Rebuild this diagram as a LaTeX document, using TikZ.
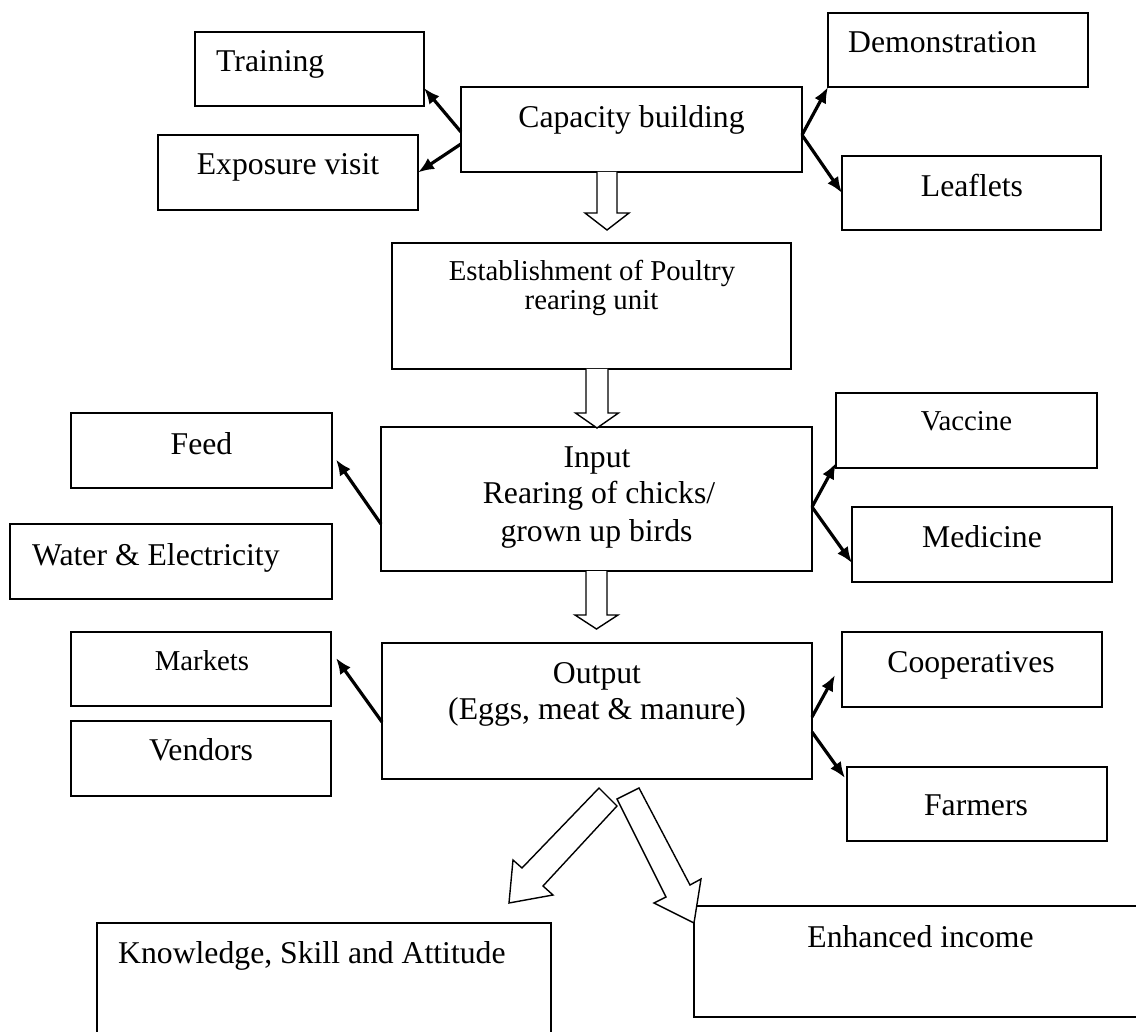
\documentclass[tikz,border=0pt]{standalone}
\usepackage{fontspec}
\setmainfont{Liberation Serif}
\usetikzlibrary{arrows.meta,calc}
\tikzset{
  box/.style={draw=black, line width=1.7pt, rectangle, inner sep=0pt, outer sep=0pt},
  lbl/.style={inner sep=0pt, anchor=base, font=\fontsize{31.7}{38}\selectfont},
  lblsm/.style={lbl, font=\fontsize{28.8}{35}\selectfont},
  link/.style={line width=3.2pt, -{Latex[length=16pt,width=13pt]}},
  hollow/.style={draw=black, fill=white, line width=1.4pt, line join=miter},
}
\begin{document}
\begin{tikzpicture}[x=1pt, y=-1pt]
\useasboundingbox (0,0) rectangle (1136,1032);
\clip (0,0) rectangle (1136,1032);

% boxes
\node[box, minimum width=341pt, minimum height=85pt]  (cap)     at (631.5,129.5) {};
\node[box, minimum width=229pt, minimum height=74pt]  (train)   at (309.5,69) {};
\node[box, minimum width=260pt, minimum height=75pt]  (expo)    at (288,172.5) {};
\node[box, minimum width=260pt, minimum height=74pt]  (demo)    at (958,50) {};
\node[box, minimum width=259pt, minimum height=74pt]  (leaf)    at (971.5,193) {};
\node[box, minimum width=399pt, minimum height=126pt] (estab)   at (591.5,306) {};
\node[box, minimum width=431pt, minimum height=144pt] (input)   at (596.5,499) {};
\node[box, minimum width=261pt, minimum height=75pt]  (feed)    at (201.5,450.5) {};
\node[box, minimum width=322pt, minimum height=75pt]  (water)   at (171,561.5) {};
\node[box, minimum width=261pt, minimum height=75pt]  (vacc)    at (966.5,430.5) {};
\node[box, minimum width=260pt, minimum height=75pt]  (med)     at (982,544.5) {};
\node[box, minimum width=430pt, minimum height=136pt] (output)  at (597,711) {};
\node[box, minimum width=260pt, minimum height=74pt]  (markets) at (201,669) {};
\node[box, minimum width=260pt, minimum height=75pt]  (vendors) at (201,758.5) {};
\node[box, minimum width=260pt, minimum height=75pt]  (coop)    at (972,669.5) {};
\node[box, minimum width=260pt, minimum height=74pt]  (farm)    at (977,804) {};
\node[box, minimum width=454pt, minimum height=137pt] (know)    at (324,991.5) {};
\node[box, minimum width=466pt, minimum height=111pt] (enh)     at (927,961.5) {};

% texts
\node[lbl, anchor=base west] (ttrain) at (216,72) {Training};
\node[lbl] (tcap) at (631.5,128) {Capacity building};
\node[lbl] (texpo) at (288,175) {Exposure visit};
\node[lbl, anchor=base west] (tdemo) at (848,53) {Demonstration};
\node[lbl] (tleaf) at (972,197) {Leaflets};
\node[lblsm] (testab1) at (592,281) {Establishment of Poultry};
\node[lblsm] (testab2) at (591.5,310) {rearing unit};
\node[lbl] (tin1) at (597,467) {Input};
\node[lbl] (tin2) at (599,503) {Rearing of chicks/};
\node[lbl] (tin3) at (596.5,541) {grown up birds};
\node[lbl] (tfeed) at (201.5,454) {Feed};
\node[lbl, anchor=base west] (twater) at (32,565) {Water \& Electricity};
\node[lblsm] (tvacc) at (966.5,431) {Vaccine};
\node[lbl] (tmed) at (982,547) {Medicine};
\node[lbl] (tout1) at (597,683) {Output};
\node[lbl] (tout2) at (597,719) {(Eggs, meat \& manure)};
\node[lblsm] (tmark) at (202,670) {Markets};
\node[lbl] (tvend) at (201,760) {Vendors};
\node[lbl] (tcoop) at (971,672) {Cooperatives};
\node[lbl] (tfarm) at (976,815) {Farmers};
\node[lbl, anchor=base west] (tknow) at (118,963) {Knowledge, Skill and Attitude};
\node[lbl] (tenh) at (920.5,947) {Enhanced income};

% side links
\draw[link] ([yshift=-2.5pt]cap.west) -- ([yshift=-19pt]train.east);
\draw[link] ([yshift=-14.5pt]cap.west) -- (expo.east);
\draw[link] ([yshift=-5.5pt]cap.east) -- (demo.south west);
\draw[link] ([yshift=-5.5pt]cap.east) -- (leaf.west);
\draw[link] ([yshift=-25pt]input.west) -- ([xshift=4pt,yshift=-9pt]feed.east);
\draw[link] ([yshift=-8pt]input.east) -- ([yshift=5pt]vacc.south west);
\draw[link] ([yshift=-8pt]input.east) -- ([yshift=-18.5pt]med.west);
\draw[link] ([yshift=-11pt]output.west) -- ([xshift=5pt,yshift=11pt]markets.east);
\draw[link] ([yshift=-6pt]output.east) -- ([xshift=-7pt,yshift=-5.5pt]coop.west);
\draw[link] ([yshift=-21pt]output.east) -- ([xshift=-2pt,yshift=26pt]farm.west);

% hollow block arrows down the main chain
\draw[hollow] ([xshift=-24.5pt]cap.south) ++(-10,0) -- ++(0,41) -- ++(-12,0)
  -- ++(22,17) -- ++(22,-17) -- ++(-12,0) -- ++(0,-41);
\draw[hollow] ([xshift=5.5pt]estab.south) ++(-11,0) -- ++(0,44) -- ++(-10.5,0)
  -- ++(21.5,15) -- ++(21.5,-15) -- ++(-10.5,0) -- ++(0,-44);
\draw[hollow] (input.south) ++(-10.5,0) -- ++(0,44) -- ++(-11,0)
  -- ++(21.5,14) -- ++(21.5,-14) -- ++(-11,0) -- ++(0,-44);

% diagonal block arrows towards the results
\draw[hollow] (599,788) -- (617,806) -- (543,886) -- (553,895) -- (509,903)
  -- (513,860) -- (522,868) -- cycle;
\draw[hollow] (639,788) -- (690,885) -- (701,879) -- (694,923) -- (654,903)
  -- (666,897) -- (617,799) -- cycle;
\end{tikzpicture}
\end{document}
